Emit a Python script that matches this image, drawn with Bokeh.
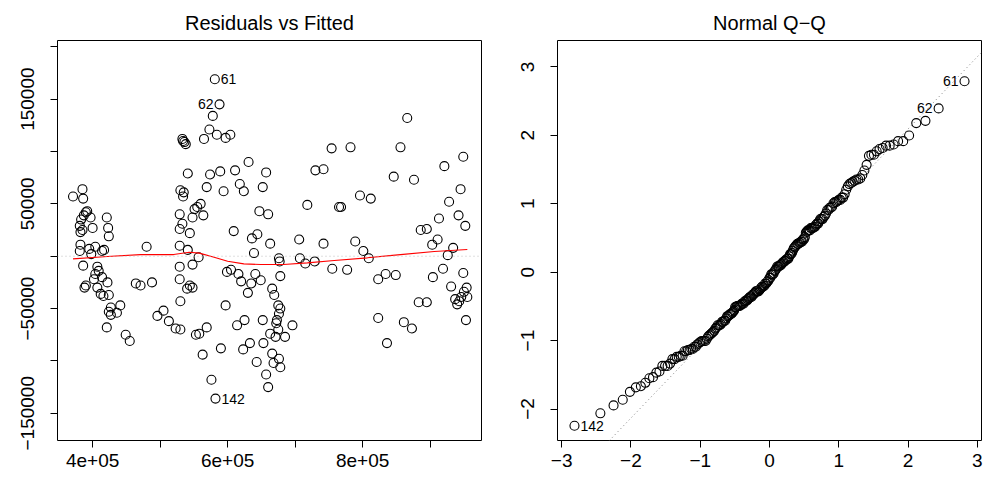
from statistics import NormalDist
import numpy as np
from bokeh.plotting import figure
from bokeh.layouts import row
from bokeh.models import FixedTicker, Range1d, Span, Slope, ColumnDataSource
from bokeh.embed import file_html
from bokeh.resources import INLINE

# ---------------- data ----------------
# fitted values (thousands) and residuals (thousands)
fitted_k = [371, 385, 386, 392, 390, 387, 397, 383, 381, 385, 382, 400, 421, 423, 424,
            382, 381, 395, 404, 417, 414, 398, 386, 407, 409, 404, 414, 402, 422, 390,
            388, 407, 412, 416, 424, 441, 427, 424, 427, 436, 421, 449, 455, 464, 471,
            488, 480, 496, 505, 513, 523, 530, 581, 588, 578, 573, 584, 565, 597, 604,
            533, 534, 536, 538, 541, 574, 589, 611, 569, 594, 618, 624, 530, 535, 534,
            560, 555, 551, 564, 548, 529, 533, 529, 544, 609, 529, 541, 557, 529, 548,
            529, 540, 544, 548, 530, 553, 558, 569, 590, 563, 576, 582, 597, 614, 625,
            623, 633, 643, 599, 605, 616, 620, 635, 630, 639, 636, 631, 657, 652, 647,
            660, 644, 663, 676, 677, 706, 707, 715, 718, 641, 649, 678, 666, 669, 675,
            678, 676, 673, 672, 675, 663, 671, 685, 696, 652, 653, 666, 676, 668, 678,
            657, 660, 866, 754, 782, 856, 949, 730, 742, 846, 876, 921, 945, 796, 812,
            765, 768, 928, 913, 942, 952, 886, 895, 742, 789, 903, 911, 934, 801, 809,
            926, 729, 755, 777, 823, 834, 849, 904, 919, 949, 931, 954, 950, 946, 955,
            937, 943, 940, 883, 895, 823, 861, 873, 836, 953]
resid_k = [57, 64, 55, 43, 42, 39, 37, 35, 29, 25, 23, 27, 37, 27, 19,
           11, 5, 7, 9, 6, 5, 2, -9, -10, -14, -17, -20, -22, -25, -28,
           -30, -30, -36, -38, -37, -47, -49, -53, -56, -54, -68, -75, -81, -26, -28,
           -25, 9, -57, -52, -62, -69, -70, 169, 145, 134, 121, 116, 112, 113, 116,
           112, 110, 109, 107, 79, 78, 81, 82, 66, 62, 69, 62, 63, 61, 57,
           50, 47, 45, 39, 37, 40, 31, 26, 22, 24, 10, 6, -1, -10, -8,
           -22, -31, -28, -30, -43, -75, -74, -68, -88, -94, -118, -136, -47, -66, -61,
           -89, -83, -101, -15, -13, -17, -24, -26, -35, 3, 17, 90, 80, 66, 43,
           40, 21, 12, -2, -5, 16, -2, -7, 49, -17, -23, -19, -31, -37, -47,
           -50, -55, -61, -64, -70, -74, -77, -77, -66, -61, -83, -93, -98, -102, -106,
           -113, -125, 132, 103, 104, 104, 95, 82, 83, 76, 73, 86, 64, 58, 55,
           47, 47, 52, 36, 39, 29, 25, 26, 12, 14, 11, 16, 8, 5, -2,
           1, -5, -12, -13, -22, -17, -18, -20, -12, -16, -29, -30, -34, -39, -39,
           -41, -43, -46, -44, -44, -59, -63, -69, -83, -61]
obs_ids = {52: "61", 53: "62", 101: "142"}      # index -> observation label

# loess smoother
smooth_fitted_k = [371, 422, 471, 520, 543, 558, 580, 600, 624, 649, 683, 718, 758, 807, 856, 906, 955]
smooth_resid_k = [-2.5, -0.3, 1.6, 1.6, 3.8, 2.9, -1.0, -4.8, -7.3, -7.9, -7.9, -6.3, -4.1, -1.5, 1.6, 4.5, 6.4]

resid_scale_k = 60.6          # residual standard error used to standardise (thousands)
qq_line_intercept = -0.02
qq_line_slope = 1.056

# tick values / labels
x1_ticks = [400000, 500000, 600000, 700000, 800000, 900000]
x1_labels = {400000: "4e+05", 500000: "", 600000: "6e+05", 700000: "", 800000: "8e+05", 900000: ""}
y1_ticks = [-150000, -100000, -50000, 0, 50000, 100000, 150000, 200000]
y1_labels = {-150000: "\u2212150000", -100000: "", -50000: "\u221250000", 0: "",
             50000: "50000", 100000: "", 150000: "150000", 200000: ""}
x2_ticks = [-3, -2, -1, 0, 1, 2, 3]
y2_ticks = [-2, -1, 0, 1, 2, 3]

FONT = "Liberation Sans"
AX = "19px"
TI = "20px"
LB = "14px"

fitted = np.array(fitted_k) * 1000.0
resid = np.array(resid_k) * 1000.0


def style(p):
    p.grid.visible = False
    p.outline_line_color = "black"
    p.outline_line_width = 1
    p.background_fill_color = "white"
    p.border_fill_color = "white"
    for ax in (p.xaxis[0], p.yaxis[0]):
        ax.axis_line_color = None
        ax.major_tick_out = 7
        ax.major_tick_in = 0
        ax.major_tick_line_color = "black"
        ax.minor_tick_line_color = None
        ax.major_label_text_font = FONT
        ax.major_label_text_font_size = AX
        ax.major_label_text_color = "black"
    p.xaxis.major_label_standoff = 6
    p.yaxis.major_label_standoff = 16
    p.yaxis.major_label_orientation = "vertical"
    p.title.text_font = FONT
    p.title.text_font_size = TI
    p.title.text_font_style = "normal"
    p.title.align = "center"
    p.title.text_color = "black"
    p.title.standoff = 14


# ---------------- panel 1: residuals vs fitted ----------------
p1 = figure(width=500, height=480,
            min_border_left=57, min_border_right=19, min_border_top=40, min_border_bottom=40,
            x_range=Range1d(348000, 976000), y_range=Range1d(-176000, 206000),
            title="Residuals vs Fitted", output_backend="svg", toolbar_location=None)
style(p1)
p1.xaxis.ticker = FixedTicker(ticks=x1_ticks)
p1.xaxis.major_label_overrides = x1_labels
p1.yaxis.ticker = FixedTicker(ticks=y1_ticks)
p1.yaxis.major_label_overrides = y1_labels

p1.add_layout(Span(location=0, dimension="width", line_color="#BEBEBE", line_dash="1 3", line_width=1))
p1.scatter(fitted, resid, size=9, marker="circle", fill_color=None, line_color="black", line_width=1.1)
p1.line(np.array(smooth_fitted_k) * 1000.0, np.array(smooth_resid_k) * 1000.0, line_color="red", line_width=1.2)

lab1 = ColumnDataSource(dict(
    x=[fitted[i] for i in obs_ids], y=[resid[i] for i in obs_ids], t=[obs_ids[i] for i in obs_ids],
    align=["left", "right", "left"], xo=[6, -6, 6]))
p1.text(x="x", y="y", text="t", source=lab1, text_align="align", x_offset="xo",
        text_baseline="middle", text_font={"value": FONT}, text_font_size={"value": LB}, text_color="black")

# ---------------- panel 2: normal Q-Q ----------------
n = len(resid)
std_res = resid / (resid_scale_k * 1000.0)
order = np.argsort(std_res)
nd = NormalDist()
theo = np.array([nd.inv_cdf((i + 0.5) / n) for i in range(n)])
sample = std_res[order]

p2 = figure(width=483, height=480,
            min_border_left=57, min_border_right=2, min_border_top=40, min_border_bottom=40,
            x_range=Range1d(-3.06, 3.06), y_range=Range1d(-2.46, 3.385),
            title="Normal Q\u2212Q", output_backend="svg", toolbar_location=None)
style(p2)
p2.xaxis.ticker = FixedTicker(ticks=x2_ticks)
p2.xaxis.major_label_overrides = {t: (str(t).replace("-", "\u2212")) for t in x2_ticks}
p2.yaxis.ticker = FixedTicker(ticks=y2_ticks)
p2.yaxis.major_label_overrides = {t: (str(t).replace("-", "\u2212")) for t in y2_ticks}

p2.add_layout(Slope(gradient=qq_line_slope, y_intercept=qq_line_intercept,
                    line_color="#7F7F7F", line_dash="1 3", line_width=1))
p2.scatter(theo, sample, size=9, marker="circle", fill_color=None, line_color="black", line_width=1.1)

rank = {int(idx): r for r, idx in enumerate(order)}
lab2 = ColumnDataSource(dict(
    x=[theo[rank[i]] for i in obs_ids], y=[sample[rank[i]] for i in obs_ids], t=[obs_ids[i] for i in obs_ids],
    align=["right", "right", "left"], xo=[-6, -6, 6]))
p2.text(x="x", y="y", text="t", source=lab2, text_align="align", x_offset="xo",
        text_baseline="middle", text_font={"value": FONT}, text_font_size={"value": LB}, text_color="black")

layout = row(p1, p2, spacing=0)
open("out.html", "w").write(file_html(layout, INLINE))
